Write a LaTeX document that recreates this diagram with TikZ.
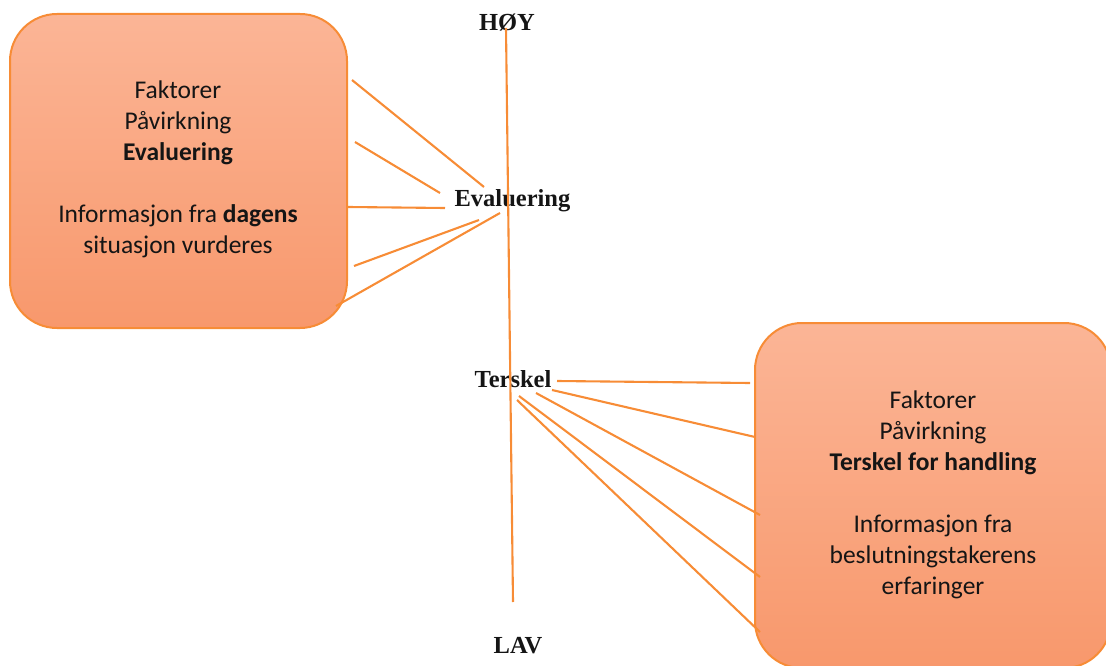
\documentclass[tikz,border=0pt]{standalone}
\usepackage{fontspec}
\setmainfont{Carlito}
\newfontfamily\lblfont{Liberation Serif}
\definecolor{ornline}{HTML}{F78C36}
\definecolor{boxtop}{HTML}{FBB596}
\definecolor{boxbot}{HTML}{F8986C}
\definecolor{txt}{HTML}{151515}
\begin{document}
\begin{tikzpicture}[x=1pt,y=-1pt,
  conn/.style={draw=ornline,line width=2.1pt},
  infobox/.style={draw=ornline,line width=2pt,rounded corners=47pt,top color=boxtop,bottom color=boxbot},
  boxtext/.style={align=center,text=txt,font=\fontsize{25.5}{31}\selectfont},
  lbl/.style={anchor=base,text=txt,inner sep=0pt,font=\lblfont\bfseries\fontsize{24.5}{28}\selectfont}]
\useasboundingbox (0,0) rectangle (1106,666);
% boxes
\path[infobox] (10,14) rectangle (347,328);
\path[infobox] (755,323) rectangle (1111,668);
\node[boxtext] (lt) at (178,169) {Faktorer\\Påvirkning\\\textbf{Evaluering}\\[31pt]Informasjon fra \textbf{dagens}\\situasjon vurderes};
\node[boxtext] (rt) at (933,495) {Faktorer\\Påvirkning\\\textbf{Terskel for handling}\\[31pt]Informasjon fra\\beslutningstakerens\\erfaringer};
% labels
\node[lbl] (hoy) at (507,31) {HØY};
\node[lbl] (ev) at (512.5,207) {Evaluering};
\node[lbl] (te) at (513,387) {Terskel};
\node[lbl] (lav) at (518,653) {LAV};
% axis
\coordinate (axtop) at (506,28);
\coordinate (axbot) at (513,602);
\draw[conn] (axtop) -- (axbot);
% left connectors
\coordinate (a1) at (352,80);  \coordinate (b1) at (484,187);
\coordinate (a2) at (355,142); \coordinate (b2) at (440,193);
\coordinate (a3) at (348,207); \coordinate (b3) at (445,208);
\coordinate (a4) at (354,266); \coordinate (b4) at (479,220);
\coordinate (a5) at (336,306); \coordinate (b5) at (500,213);
\foreach \i in {1,...,5} {\draw[conn] (a\i) -- (b\i);}
% right connectors
\coordinate (c1) at (557,381); \coordinate (d1) at (750,383);
\coordinate (c2) at (552,390); \coordinate (d2) at (755,437);
\coordinate (c3) at (536,393); \coordinate (d3) at (760,515);
\coordinate (c4) at (519,396); \coordinate (d4) at (760,577);
\coordinate (c5) at (517,400); \coordinate (d5) at (760,632);
\foreach \i in {1,...,5} {\draw[conn] (c\i) -- (d\i);}
\end{tikzpicture}
\end{document}
